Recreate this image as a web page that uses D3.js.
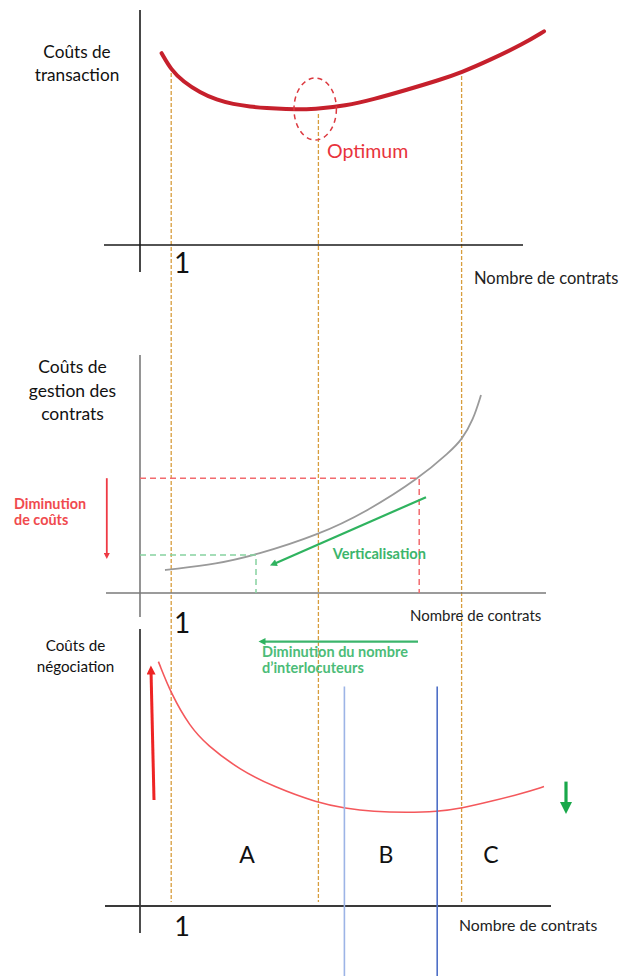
<!DOCTYPE html>
<html><head><meta charset="utf-8">
<script src="https://cdn.jsdelivr.net/npm/d3@7/dist/d3.min.js"></script>
<style>html,body{margin:0;padding:0;background:#fff;} svg{display:block;font-family:Lato,"Open Sans",sans-serif;}</style>
</head><body>
<script>
// ---------- DATA ----------
// Top panel: coûts de transaction
const transX = [5.4, 7.8, 10.8, 15, 19.2, 23.3, 27.5, 31.7, 35.8, 44.2, 51.3, 58.3, 66.7, 75, 80.4, 87.5, 95.8, 101];
const transY = [95.9, 87.5, 81.7, 76.2, 72.5, 70.4, 69.2, 68.4, 67.9, 67.9, 69.6, 72.8, 77.6, 82.6, 86.3, 92.5, 100.5, 106.8];
const optimum = {x: 43.8, y: 68, rx: 5.3, ry: 15.5, label: "Optimum"};
// Middle panel: coûts de gestion des contrats
const gestX = [6.25, 7.8, 19.2, 29, 44.6, 56.7, 69.8, 77.5, 80.4, 83.3, 85.25];
const gestY = [11.5, 11.85, 14.5, 19, 29, 40.7, 57.4, 70.7, 76.5, 86.5, 99];
const highPoint = {x: 69.8, y: 57.4};
const lowPoint = {x: 29, y: 19};
// Bottom panel: coûts de négociation
const negoX = [4.6, 7.9, 12.5, 16.7, 25, 33.3, 44.6, 51.25, 58.3, 66.7, 74.3, 80.4, 87.5, 95.8, 101];
const negoY = [122.2, 105.5, 89.7, 80.5, 68, 59.7, 51.4, 48.9, 47.2, 46.7, 47.2, 48.9, 52.2, 56.4, 59.7];
// Shared guides
const guideX = [7.8, 44.6, 80.4];
const guideStartY = [86, 65.5, 84.5];
const zoneBounds = [51.1, 74.3];
const zoneLabels = ["A", "B", "C"];
const zoneLabelX = [26.75, 61.5, 87.75];
const tickLabel = "1";
const xTitle = "Nombre de contrats";
const yTitles = [["Coûts de", "transaction"], ["Coûts de", "gestion des", "contrats"], ["Coûts de", "négociation"]];

// ---------- SCALES ----------
const W = 628, H = 976;
const x = d3.scaleLinear().domain([0, 100]).range([140, 540]);
const yTop = d3.scaleLinear().domain([0, 120]).range([245, 5]);
const yMid = d3.scaleLinear().domain([0, 120]).range([593, 353]);
const yBot = d3.scaleLinear().domain([0, 120]).range([906, 666]);

const svg = d3.select("body").append("svg").attr("width", W).attr("height", H);
const defs = svg.append("defs");
function marker(id, color, w, h) {
  defs.append("marker").attr("id", id).attr("viewBox", "0 0 10 10").attr("refX", 5).attr("refY", 5)
    .attr("markerWidth", w).attr("markerHeight", h).attr("markerUnits", "userSpaceOnUse").attr("orient", "auto")
    .append("path").attr("d", "M0,0 L10,5 L0,10 z").attr("fill", color);
}
marker("gArrow", "#2fb35f", 8, 7);
marker("rArrowS", "#ee3a44", 6, 6);
marker("rArrowB", "#ee2424", 11, 9);
marker("gArrowB", "#19a84a", 12, 13);

// ---------- GUIDES (orange dashed) ----------
svg.append("g").selectAll("line").data(guideX).join("line")
  .attr("x1", d => x(d)).attr("x2", d => x(d))
  .attr("y1", (d, i) => yTop(guideStartY[i])).attr("y2", yBot(2))
  .attr("stroke", "#d79d3c").attr("stroke-width", 1.3).attr("stroke-dasharray", "4,2");

// ---------- AXES ----------
function axes(yS, xStart, xEnd, yTopV, yBottomPx, color, w) {
  const g = svg.append("g");
  g.append("line").attr("x1", x(xStart)).attr("x2", x(xEnd)).attr("y1", yS(0)).attr("y2", yS(0))
    .attr("stroke", color).attr("stroke-width", w);
  g.append("line").attr("x1", x(0)).attr("x2", x(0)).attr("y1", yS(yTopV)).attr("y2", yS(yBottomPx))
    .attr("stroke", color).attr("stroke-width", w);
}
axes(yTop, -9, 95.75, 117.5, -13.5, "#1a1a1a", 1.6);
axes(yMid, -8.5, 101.5, 119, -12, "#7a7a7a", 1.6);
axes(yBot, -8.75, 102.75, 138.5, -13.5, "#3a3a3a", 1.8);

// ---------- TOP PANEL ----------
const line = (ys) => d3.line().x(d => x(d[0])).y(d => ys(d[1])).curve(d3.curveBasis);
svg.append("path").datum(transX.map((v, i) => [v, transY[i]]))
  .attr("d", line(yTop)).attr("fill", "none").attr("stroke", "#c6202c").attr("stroke-width", 4).attr("stroke-linecap", "round");
svg.append("ellipse").attr("cx", x(optimum.x)).attr("cy", yTop(optimum.y))
  .attr("rx", x(optimum.rx) - x(0)).attr("ry", yTop(0) - yTop(optimum.ry))
  .attr("fill", "none").attr("stroke", "#dc3a40").attr("stroke-width", 1.5).attr("stroke-dasharray", "5,4");
svg.append("text").attr("x", 327).attr("y", 158).attr("fill", "#e8333c")
  .attr("font-size", 19.5).text(optimum.label);

// ---------- MIDDLE PANEL ----------
svg.append("path").datum(gestX.map((v, i) => [v, gestY[i]]))
  .attr("d", line(yMid)).attr("fill", "none").attr("stroke", "#9a9a9a").attr("stroke-width", 1.8);
// red dashed
svg.append("path").attr("d", `M${x(0)},${yMid(highPoint.y)} H${x(highPoint.x)} V${yMid(0)}`)
  .attr("fill", "none").attr("stroke", "#f26b6e").attr("stroke-width", 1.5).attr("stroke-dasharray", "6,4");
// green dashed
svg.append("path").attr("d", `M${x(0)},${yMid(lowPoint.y)} H${x(lowPoint.x)} V${yMid(0)}`)
  .attr("fill", "none").attr("stroke", "#86d2a0").attr("stroke-width", 1.5).attr("stroke-dasharray", "6,4");
// verticalisation arrow
svg.append("line").attr("x1", x(71.5)).attr("y1", yMid(47.9)).attr("x2", x(33.3)).attr("y2", yMid(14.4))
  .attr("stroke", "#2fb35f").attr("stroke-width", 2.2).attr("marker-end", "url(#gArrow)");
svg.append("text").attr("x", x(48.2)).attr("y", 559).attr("fill", "#3cb56c").attr("font-weight", 700)
  .attr("font-size", 14.6).text("Verticalisation");
// red diminution arrow
svg.append("line").attr("x1", x(-8.3)).attr("y1", yMid(highPoint.y)).attr("x2", x(-8.3)).attr("y2", yMid(18.5))
  .attr("stroke", "#ee3a44").attr("stroke-width", 1.8).attr("marker-end", "url(#rArrowS)");
svg.append("text").attr("x", 14).attr("fill", "#f04a4e").attr("font-weight", 700).attr("font-size", 14.4)
  .selectAll("tspan").data(["Diminution", "de coûts"]).join("tspan")
  .attr("x", 14).attr("y", (d, i) => 509 + i * 16).text(d => d);

// ---------- BOTTOM PANEL ----------
svg.append("path").datum(negoX.map((v, i) => [v, negoY[i]]))
  .attr("d", line(yBot)).attr("fill", "none").attr("stroke", "#f4585c").attr("stroke-width", 1.6);
// blue zone bounds
svg.append("g").selectAll("line").data(zoneBounds).join("line")
  .attr("x1", d => x(d)).attr("x2", d => x(d)).attr("y1", yBot(109.7)).attr("y2", H)
  .attr("stroke", (d, i) => i === 0 ? "#9db4e6" : "#4e6fc6").attr("stroke-width", 1.6);
// zone labels
svg.append("g").selectAll("text").data(zoneLabels).join("text")
  .attr("x", (d, i) => x(zoneLabelX[i])).attr("y", yBot(21.5)).attr("text-anchor", "middle")
  .attr("font-size", 23).attr("fill", "#111").text(d => d);
// red up arrow
svg.append("line").attr("x1", x(3.5)).attr("y1", yBot(53)).attr("x2", x(2.75)).attr("y2", yBot(118))
  .attr("stroke", "#ee2424").attr("stroke-width", 3).attr("marker-end", "url(#rArrowB)");
// green down arrow
svg.append("line").attr("x1", x(106.5)).attr("y1", yBot(62.2)).attr("x2", x(106.5)).attr("y2", yBot(49))
  .attr("stroke", "#19a84a").attr("stroke-width", 3.2).attr("marker-end", "url(#gArrowB)");
// green left arrow
svg.append("line").attr("x1", x(69.5)).attr("y1", yBot(132.2)).attr("x2", x(30.5)).attr("y2", yBot(132.2))
  .attr("stroke", "#3cb56c").attr("stroke-width", 2.2).attr("marker-end", "url(#gArrow)");
svg.append("text").attr("fill", "#4cbc78").attr("font-weight", 700).attr("font-size", 14.5)
  .selectAll("tspan").data(["Diminution du nombre", "d\u2019interlocuteurs"]).join("tspan")
  .attr("x", x(30.5)).attr("y", (d, i) => 657 + i * 16).text(d => d);

// ---------- TEXT LABELS ----------
function yTitle(lines, cx, y0, dy, size) {
  svg.append("text").attr("text-anchor", "middle").attr("font-size", size).attr("fill", "#111")
    .selectAll("tspan").data(lines).join("tspan").attr("x", cx).attr("y", (d, i) => y0 + i * dy).text(d => d);
}
yTitle(yTitles[0], 77, 58, 23, 17.2);
yTitle(yTitles[1], 72.5, 373, 23.5, 17.5);
yTitle(yTitles[2], 75.5, 651, 21, 15.2);

const ones = [{y: 273, s: 28}, {y: 633, s: 28}, {y: 936, s: 27}];
svg.append("g").selectAll("text").data(ones).join("text")
  .attr("x", x(10.5)).attr("y", d => d.y).attr("text-anchor", "middle").attr("font-size", d => d.s)
  .attr("fill", "#111").text(tickLabel);

const xt = [{x: 474, y: 284, s: 16.5}, {x: 410, y: 621, s: 15}, {x: 459, y: 931, s: 15.8}];
svg.append("g").selectAll("text").data(xt).join("text")
  .attr("x", d => d.x).attr("y", d => d.y).attr("font-size", d => d.s).attr("fill", "#222").text(xTitle);
</script>
</body></html>
